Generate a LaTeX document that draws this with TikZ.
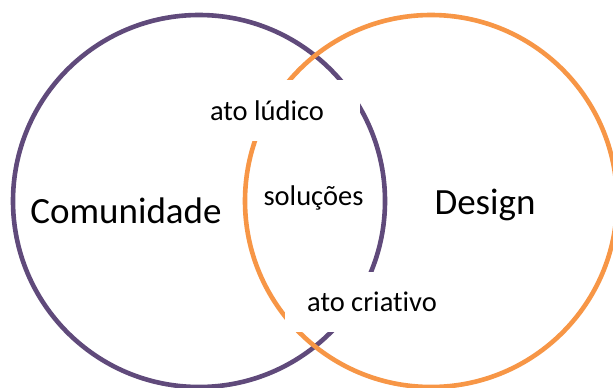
\documentclass[tikz,border=0pt]{standalone}
\usepackage{fontspec}
\setmainfont{Carlito}[Ligatures={NoCommon}]
\definecolor{vpurple}{HTML}{604A7B}
\definecolor{vorange}{HTML}{F79646}
\begin{document}
\begin{tikzpicture}[x=1pt,y=-1pt,
  ring/.style={line width=4.6pt},
  bigtxt/.style={font=\fontsize{37}{44}\selectfont, inner sep=0pt},
  smalltxt/.style={font=\fontsize{28.5}{34}\selectfont, inner sep=0pt},
  whitebox/.style={fill=white, draw=none, inner sep=0pt}]
\useasboundingbox (0,0) rectangle (613,388);
\fill[white] (0,0) rectangle (613,388);
\begin{scope}
\clip (0,0) rectangle (613,388);
\draw[ring, vpurple] (199,201) circle[radius=186];
\draw[ring, vorange] (431,201) circle[radius=186];
\end{scope}
\node[whitebox, minimum width=170pt, minimum height=61pt] (box1) at (275,110.5) {};
\node[whitebox, minimum width=174pt, minimum height=60pt] (box2) at (372,302) {};
\node[smalltxt] (ludico) at (267,111) {ato lúdico};
\node[smalltxt] (criativo) at (372,302) {ato criativo};
\node[smalltxt] (solucoes) at (313.5,198) {soluções};
\node[bigtxt] (comunidade) at (126,211) {Comunidade};
\node[bigtxt] (design) at (485,205) {Design};
\end{tikzpicture}
\end{document}
